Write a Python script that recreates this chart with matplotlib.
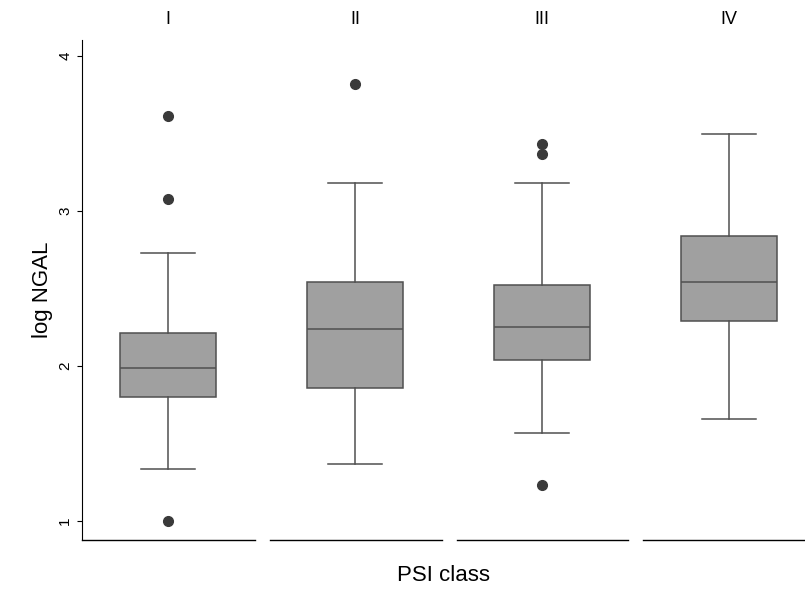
import matplotlib
matplotlib.use('Agg')
import matplotlib.pyplot as plt

plt.rcParams['font.family'] = ['Liberation Sans', 'DejaVu Sans']

groups = ['I', 'II', 'III', 'IV']
whislo = [1.335, 1.37, 1.57, 1.66]
q1 = [1.80, 1.86, 2.04, 2.29]
med = [1.99, 2.24, 2.25, 2.54]
q3 = [2.21, 2.54, 2.52, 2.84]
whishi = [2.73, 3.18, 3.18, 3.50]
fliers = [[1.0, 3.08, 3.61], [3.82], [1.23, 3.37, 3.43], []]

stats = [dict(whislo=whislo[i], q1=q1[i], med=med[i], q3=q3[i], whishi=whishi[i],
              fliers=fliers[i], label=groups[i]) for i in range(4)]

fig = plt.figure(figsize=(8.05, 5.9), dpi=100)
ax = fig.add_axes([82/805, 50/590, 723/805, 500/590])
edge = '#505050'
ax.bxp(stats, positions=[1, 2, 3, 4], widths=0.51, capwidths=0.29, patch_artist=True,
       boxprops=dict(facecolor='#a0a0a0', edgecolor=edge, linewidth=1.1),
       medianprops=dict(color=edge, linewidth=1.1),
       whiskerprops=dict(color=edge, linewidth=1.1),
       capprops=dict(color=edge, linewidth=1.1),
       flierprops=dict(marker='o', markerfacecolor='#3a3a3a', markeredgecolor='#3a3a3a', markersize=7))

ax.set_xlim(1 - 86/187, 1 + 637/187)
ax.set_ylim(1 - 19/155, 1 + 481/155)
ax.set_yticks([1, 2, 3, 4])
ax.set_yticklabels(['1', '2', '3', '4'], rotation=90, va='center', fontsize=11)
ax.set_ylabel('log NGAL', fontsize=16)
ax.set_xticks([])
ax.set_xlabel('PSI class', fontsize=16, labelpad=18)
for s in ['top', 'right', 'bottom']:
    ax.spines[s].set_visible(False)

segs = [(82, 255), (270, 442), (457, 628), (643, 805)]
y0 = ax.get_ylim()[0]
for a, b in segs:
    ax.plot([(a-168)/187+1, (b-168)/187+1], [y0, y0], color='black', lw=1.0, clip_on=False)
for i, g in enumerate(groups):
    ax.text(i+1, 1 + 501/155, g, ha='center', va='center', fontsize=13)

fig.savefig('out.png', dpi=100)
